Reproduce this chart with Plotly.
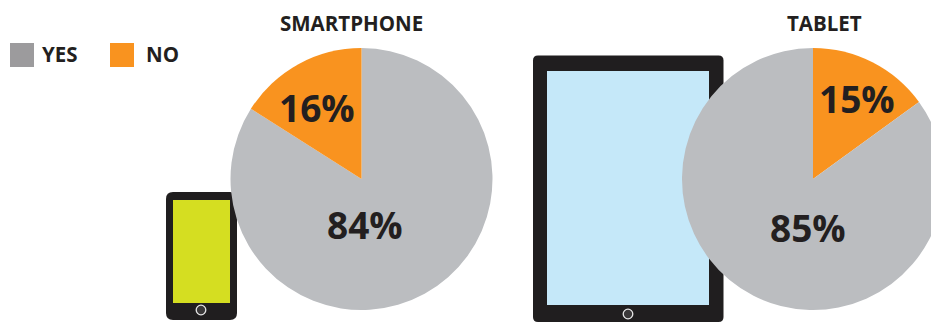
import plotly.graph_objects as go

# Survey answers per device
answers = ["YES", "NO"]
smartphone_values = [84, 16]
tablet_values = [85, 15]
device_titles = ["SMARTPHONE", "TABLET"]

PIE_GRAY = "#BBBDC0"
ORANGE = "#F9931F"
SWATCH_GRAY = "#9C9B9D"
INK = "#231F20"
BODY = "#201E1F"
FONT = "Open Sans"

# The canvas runs past the window so the tablet pie is cut by the right edge
W, H = 962, 322


def px(x):
    return x / W


def py(y):
    return 1 - y / H


def rounded_rect(x0, y0, x1, y1, r, fill):
    path = (
        f"M {px(x0 + r)} {py(y0)} L {px(x1 - r)} {py(y0)} "
        f"Q {px(x1)} {py(y0)} {px(x1)} {py(y0 + r)} "
        f"L {px(x1)} {py(y1 - r)} Q {px(x1)} {py(y1)} {px(x1 - r)} {py(y1)} "
        f"L {px(x0 + r)} {py(y1)} Q {px(x0)} {py(y1)} {px(x0)} {py(y1 - r)} "
        f"L {px(x0)} {py(y0 + r)} Q {px(x0)} {py(y0)} {px(x0 + r)} {py(y0)} Z"
    )
    return dict(type="path", xref="paper", yref="paper", path=path,
                fillcolor=fill, line_width=0, layer="below")


def box(x0, y0, x1, y1, fill, layer="below"):
    return dict(type="rect", xref="paper", yref="paper",
                x0=px(x0), x1=px(x1), y0=py(y1), y1=py(y0),
                fillcolor=fill, line_width=0, layer=layer)


def home_button(cx, cy, r):
    return dict(type="circle", xref="paper", yref="paper",
                x0=px(cx - r), x1=px(cx + r), y0=py(cy + r), y1=py(cy - r),
                fillcolor="#3A3839", line=dict(color="#E6E6E6", width=1.3),
                layer="below")


def text(x, y, s, size, anchor="center"):
    return dict(xref="paper", yref="paper", x=px(x), y=py(y), text=f"<b>{s}</b>",
                showarrow=False, xanchor=anchor, yanchor="middle",
                font=dict(family=FONT, size=size, color=INK))


fig = go.Figure()

# Smartphone: YES runs clockwise from 12 o'clock, leaving NO just left of the top
fig.add_trace(go.Pie(
    labels=answers, values=smartphone_values, sort=False,
    direction="clockwise", rotation=0,
    marker=dict(colors=[PIE_GRAY, ORANGE], line=dict(width=0)),
    textinfo="none", showlegend=False,
    domain=dict(x=[px(230.5), px(492.5)], y=[py(310), py(48)]),
))
# Tablet: NO runs clockwise from 12 o'clock, just right of the top
fig.add_trace(go.Pie(
    labels=answers[::-1], values=tablet_values[::-1], sort=False,
    direction="clockwise", rotation=0,
    marker=dict(colors=[ORANGE, PIE_GRAY], line=dict(width=0)),
    textinfo="none", showlegend=False,
    domain=dict(x=[px(682), px(944)], y=[py(310), py(48)]),
))

shapes = [
    # Phone
    rounded_rect(166, 192, 237, 320, 7, BODY),
    box(173, 200, 230, 303, "#D5DE21"),
    home_button(201, 310, 4.8),
    # Tablet
    rounded_rect(533, 55.5, 723.5, 322, 5, BODY),
    box(547, 71, 709, 305, "#C5E8F9"),
    home_button(628, 314, 4.8),
    # Legend swatches
    box(10, 43, 34, 67, SWATCH_GRAY),
    box(110, 43, 134, 67, ORANGE),
]

annotations = [
    text(351.5, 23, device_titles[0], 20.5),
    text(824, 23, device_titles[1], 20.5),
    text(40, 54.5, answers[0], 20.5, "left"),
    text(144, 54.5, answers[1], 20.5, "left"),
    text(317, 108, f"{smartphone_values[1]}%", 37),
    text(365, 224.5, f"{smartphone_values[0]}%", 37),
    text(857, 98, f"{tablet_values[1]}%", 37),
    text(808, 227.5, f"{tablet_values[0]}%", 37),
]

fig.update_layout(
    width=W, height=H, margin=dict(l=0, r=0, t=0, b=0),
    paper_bgcolor="white", plot_bgcolor="white",
    shapes=shapes, annotations=annotations,
)

fig.write_html(
    "out.html",
    config={"displayModeBar": False},
    post_script="document.documentElement.style.overflow='hidden';document.body.style.overflow='hidden';",
)
